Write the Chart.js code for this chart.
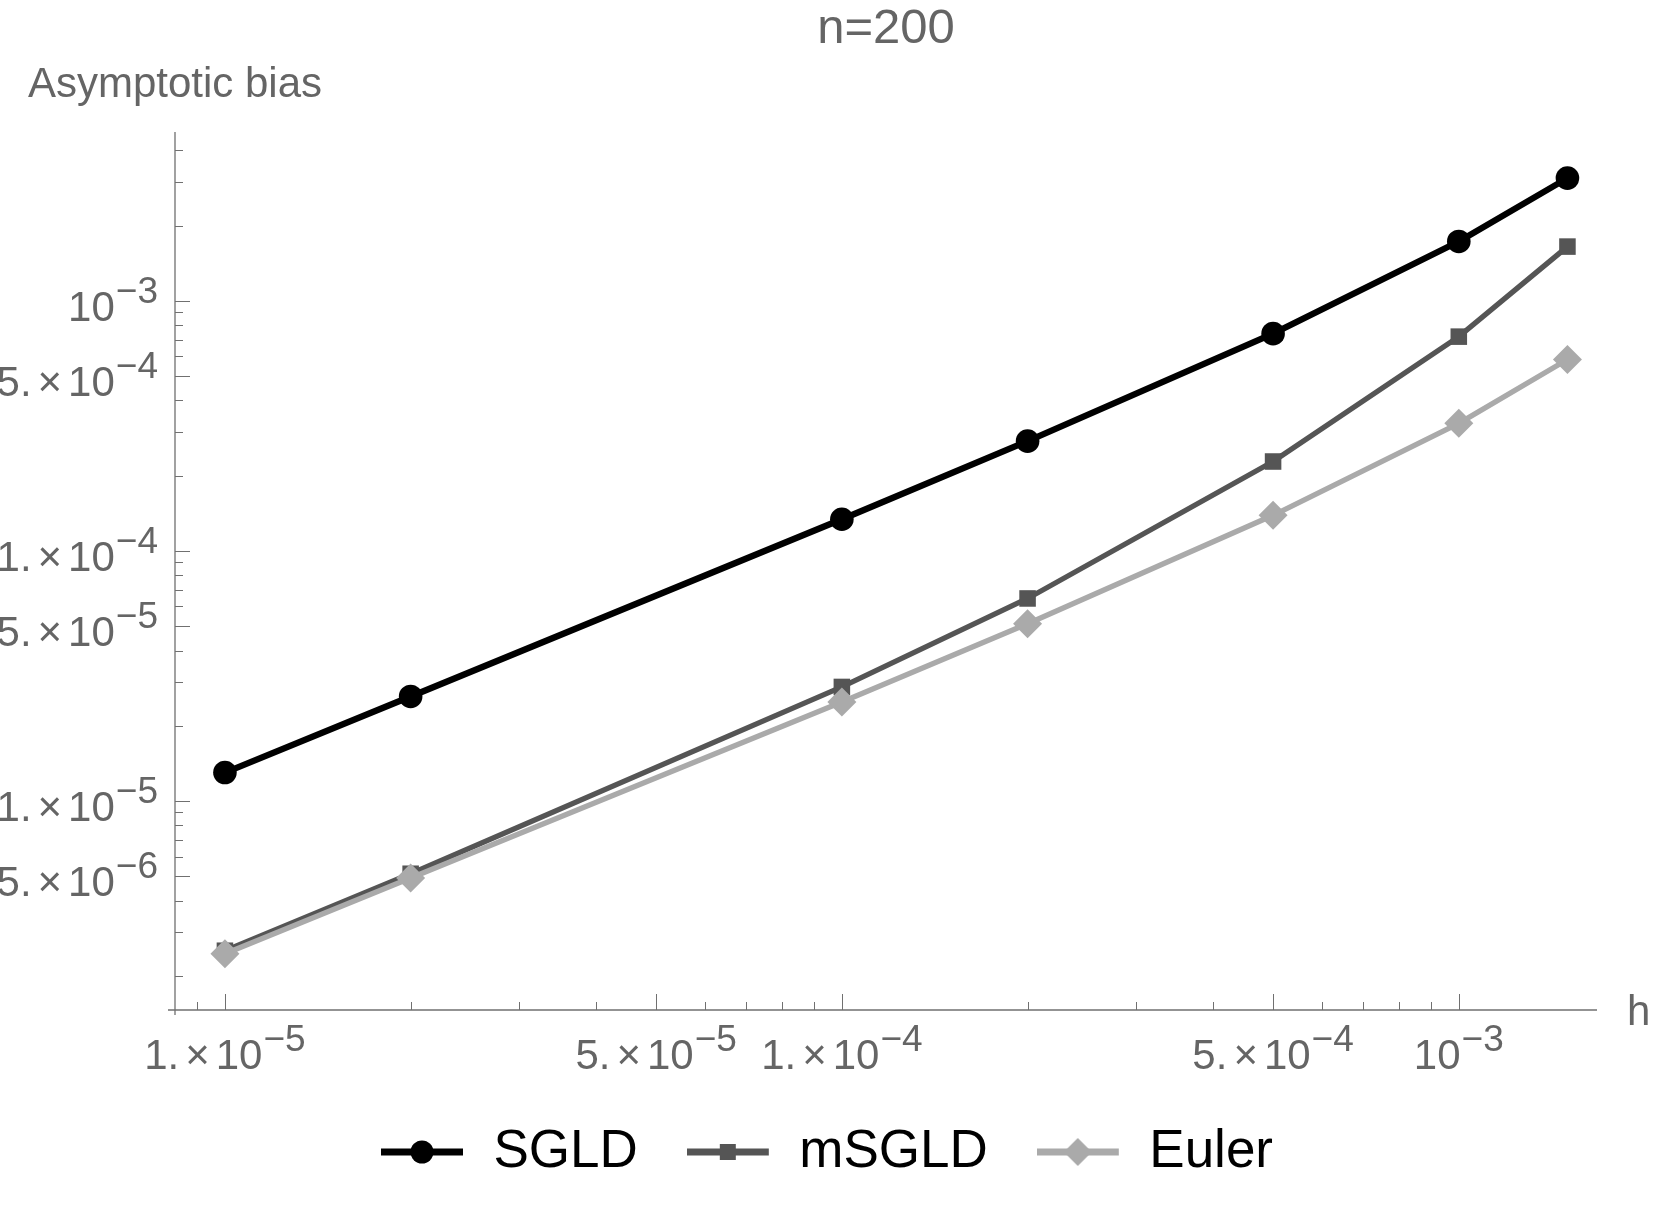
<!DOCTYPE html>
<html lang="en">
<head>
    <meta charset="UTF-8" />
    <title>Asymptotic bias, n=200</title>
    <script src="https://cdn.jsdelivr.net/npm/chart.js"></script>
    <style>
        html, body { margin: 0; padding: 0; background: #fff; }
        #wrap { width: 1654px; height: 1207px; }
    </style>
</head>
<body>
<div id="wrap"><canvas id="biasChart" width="1654" height="1207"></canvas></div>
<script>
    // step size h (x values)
    const stepSizes = [1e-5, 2e-5, 1e-4, 2e-4, 5e-4, 1e-3, 1.5e-3];

    // asymptotic bias per method
    const sgldBias  = [1.30e-5, 2.62e-5, 1.34e-4, 2.75e-4, 7.40e-4, 1.73e-3, 3.10e-3];
    const msgldBias = [2.52e-6, 5.12e-6, 2.86e-5, 6.46e-5, 2.28e-4, 7.20e-4, 1.65e-3];
    const eulerBias = [2.45e-6, 4.92e-6, 2.49e-5, 5.12e-5, 1.39e-4, 3.24e-4, 5.83e-4];

    const seriesNames   = ['SGLD', 'mSGLD', 'Euler'];
    const seriesColors  = ['#000000', '#555555', '#aaaaaa'];
    const seriesMarkers = ['circle', 'rect', 'rectRot'];

    const chartTitle = 'n=200';
    const xAxisTitle = 'h';
    const yAxisTitle = 'Asymptotic bias';

    // axis ranges
    const xRange = [8.3e-6, 1.675e-3];
    const yRange = [1.46e-6, 4.74e-3];

    // labelled (long) ticks and unlabelled (short) ticks
    const xTickValues = [1e-5, 5e-5, 1e-4, 5e-4, 1e-3];
    const xTickLabels = ['1.×10^−5', '5.×10^−5', '1.×10^−4', '5.×10^−4', '10^−3'];
    const xMinorTicks = [9e-6, 2e-5, 3e-5, 4e-5, 6e-5, 7e-5, 8e-5, 9e-5,
                         2e-4, 3e-4, 4e-4, 6e-4, 7e-4, 8e-4, 9e-4];
    const yTickValues = [1e-3, 5e-4, 1e-4, 5e-5, 1e-5, 5e-6];
    const yTickLabels = ['10^−3', '5.×10^−4', '1.×10^−4', '5.×10^−5', '1.×10^−5', '5.×10^−6'];
    const yMinorTicks = [4e-3, 3e-3, 2e-3, 9e-4, 8e-4, 7e-4, 6e-4, 4e-4, 3e-4, 2e-4,
                         9e-5, 8e-5, 7e-5, 6e-5, 4e-5, 3e-5, 2e-5,
                         9e-6, 8e-6, 7e-6, 6e-6, 4e-6, 3e-6, 2e-6];

    const FONT = "'Liberation Sans', Arial, Helvetica, sans-serif";
    const GREY = '#656565';
    const AXIS = '#707070';

    Chart.defaults.font.family = FONT;

    // draws "5.×10^−4" style labels with a raised exponent
    function drawTickLabel(ctx, label, x, baseline, align) {
        const [base, sup] = label.split('^');
        const bits = base.split('×');
        const pieces = [];
        if (bits.length > 1) {
            pieces.push({ t: bits[0], size: 42, dy: 0, pad: 6 });
            pieces.push({ t: '×', size: 42, dy: 0, pad: 6 });
        }
        pieces.push({ t: bits[bits.length - 1], size: 42, dy: 0, pad: 1 });
        pieces.push({ t: sup, size: 37, dy: -18, pad: 0 });
        pieces.forEach(p => {
            ctx.font = p.size + 'px ' + FONT;
            p.w = ctx.measureText(p.t).width;
        });
        const total = pieces.reduce((s, p) => s + p.w + p.pad, 0);
        let cx = align === 'right' ? x - total : x - total / 2;
        ctx.textAlign = 'left';
        ctx.textBaseline = 'alphabetic';
        pieces.forEach(p => {
            ctx.font = p.size + 'px ' + FONT;
            ctx.fillText(p.t, cx, baseline + p.dy);
            cx += p.w + p.pad;
        });
    }

    // Mathematica-like axes: lines, inward ticks, labels, axis titles
    const axesDecor = {
        id: 'axesDecor',
        afterDraw(chart) {
            const { ctx, chartArea: area, scales: { x, y } } = chart;
            ctx.save();
            ctx.strokeStyle = AXIS;
            ctx.lineWidth = 1.3;
            ctx.beginPath();
            ctx.moveTo(area.left - 7, area.bottom);
            ctx.lineTo(area.right, area.bottom);
            ctx.moveTo(area.left, area.top);
            ctx.lineTo(area.left, area.bottom + 5);
            ctx.stroke();

            ctx.lineWidth = 1;
            ctx.beginPath();
            xTickValues.forEach(v => {
                const px = Math.round(x.getPixelForValue(v)) + 0.5;
                ctx.moveTo(px, area.bottom); ctx.lineTo(px, area.bottom - 16);
            });
            xMinorTicks.forEach(v => {
                const px = Math.round(x.getPixelForValue(v)) + 0.5;
                ctx.moveTo(px, area.bottom); ctx.lineTo(px, area.bottom - 8);
            });
            yTickValues.forEach(v => {
                const py = Math.round(y.getPixelForValue(v)) + 0.5;
                ctx.moveTo(area.left, py); ctx.lineTo(area.left + 15, py);
            });
            yMinorTicks.forEach(v => {
                const py = Math.round(y.getPixelForValue(v)) + 0.5;
                ctx.moveTo(area.left, py); ctx.lineTo(area.left + 8, py);
            });
            ctx.stroke();

            ctx.fillStyle = GREY;
            xTickValues.forEach((v, i) => {
                drawTickLabel(ctx, xTickLabels[i], x.getPixelForValue(v), area.bottom + 59, 'center');
            });
            yTickValues.forEach((v, i) => {
                drawTickLabel(ctx, yTickLabels[i], area.left - 17, y.getPixelForValue(v) + 20, 'right');
            });

            ctx.font = '42px ' + FONT;
            ctx.textBaseline = 'alphabetic';
            ctx.textAlign = 'center';
            ctx.fillText(yAxisTitle, area.left, 97);
            ctx.textAlign = 'left';
            ctx.fillText(xAxisTitle, area.right + 30, area.bottom + 15);
            ctx.restore();
        }
    };

    // legend sample: short line with the marker in the middle
    function legendIcon(color, marker) {
        const c = document.createElement('canvas');
        c.width = 86;
        c.height = 32;
        const g = c.getContext('2d');
        g.strokeStyle = color;
        g.fillStyle = color;
        g.lineWidth = 7;
        g.beginPath();
        g.moveTo(0, 16);
        g.lineTo(82, 16);
        g.stroke();
        g.beginPath();
        if (marker === 'circle') {
            g.arc(41, 16, 11.5, 0, Math.PI * 2);
        } else if (marker === 'rect') {
            g.rect(33, 8, 16, 16);
        } else {
            g.moveTo(27, 16); g.lineTo(41, 2); g.lineTo(55, 16); g.lineTo(41, 30);
            g.closePath();
        }
        g.fill();
        return c;
    }
    const legendIcons = seriesNames.map((n, i) => legendIcon(seriesColors[i], seriesMarkers[i]));

    const seriesValues = [sgldBias, msgldBias, eulerBias];
    const pointSizes = [11.8, 11.7, 14.5];
    const lineWidths = [6.3, 5.3, 5.3];

    const ctx = document.getElementById('biasChart').getContext('2d');
    new Chart(ctx, {
        type: 'line',
        data: {
            datasets: seriesNames.map((name, i) => ({
                label: name,
                data: stepSizes.map((h, j) => ({ x: h, y: seriesValues[i][j] })),
                borderColor: seriesColors[i],
                backgroundColor: seriesColors[i],
                borderWidth: lineWidths[i],
                pointStyle: seriesMarkers[i],
                pointRadius: pointSizes[i],
                pointHoverRadius: pointSizes[i],
                pointBorderWidth: 0,
                tension: 0,
                order: 2 - i
            }))
        },
        options: {
            responsive: false,
            animation: false,
            events: [],
            layout: { padding: { left: 57, right: 57, top: 0, bottom: 18.5 } },
            scales: {
                x: {
                    type: 'logarithmic',
                    position: 'bottom',
                    min: xRange[0],
                    max: xRange[1],
                    bounds: 'data',
                    grid: { display: false, drawTicks: false },
                    border: { display: false },
                    ticks: { display: false },
                    afterFit: s => { s.height = 66.5; }
                },
                y: {
                    type: 'logarithmic',
                    position: 'left',
                    min: yRange[0],
                    max: yRange[1],
                    bounds: 'data',
                    grid: { display: false, drawTicks: false },
                    border: { display: false },
                    ticks: { display: false },
                    afterFit: s => { s.width = 118; }
                }
            },
            plugins: {
                title: {
                    display: true,
                    text: chartTitle,
                    color: GREY,
                    fullSize: false,
                    font: { size: 49, weight: 'normal' },
                    padding: { top: 0, bottom: 73.2 }
                },
                legend: {
                    position: 'bottom',
                    labels: {
                        usePointStyle: true,
                        pointStyleWidth: 86,
                        padding: 49,
                        color: '#000',
                        font: { size: 53 },
                        generateLabels: () => seriesNames.map((name, i) => ({
                            text: name,
                            datasetIndex: i,
                            hidden: false,
                            pointStyle: legendIcons[i],
                            fillStyle: seriesColors[i],
                            strokeStyle: seriesColors[i],
                            lineWidth: 0,
                            fontColor: '#000'
                        }))
                    }
                },
                tooltip: { enabled: false }
            }
        },
        plugins: [axesDecor]
    });
</script>
</body>
</html>
